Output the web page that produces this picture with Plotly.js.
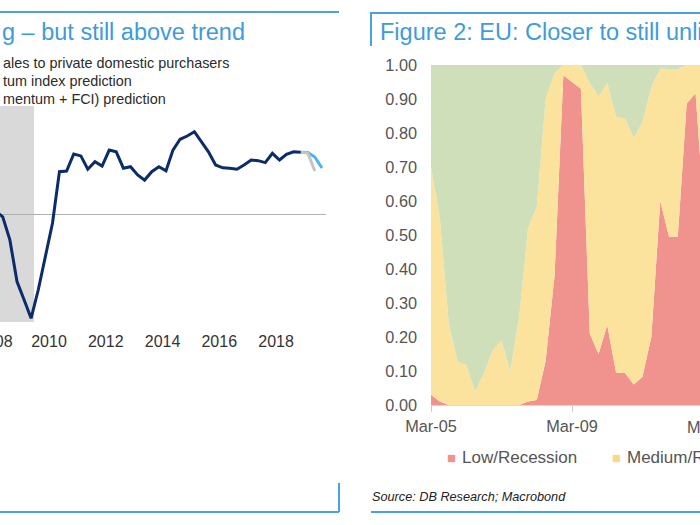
<!DOCTYPE html>
<html><head><meta charset="utf-8">
<script src="https://cdn.plot.ly/plotly-3.0.1.min.js"></script>
<style>html,body{margin:0;padding:0;background:#fff;overflow:hidden}#chart{width:700px;height:525px}</style>
</head><body><div id="chart"></div>
<script>
// ---------- Figure 1 (US) ----------
const usDates = [
  '2008-02-15','2008-05-15','2008-08-15','2008-11-15',
  '2009-02-15','2009-05-15','2009-08-15','2009-11-15',
  '2010-02-15','2010-05-15','2010-08-15','2010-11-15',
  '2011-02-15','2011-05-15','2011-08-15','2011-11-15',
  '2012-02-15','2012-05-15','2012-08-15','2012-11-15',
  '2013-02-15','2013-05-15','2013-08-15','2013-11-15',
  '2014-02-15','2014-05-15','2014-08-15','2014-11-15',
  '2015-02-15','2015-05-15','2015-08-15','2015-11-15',
  '2016-02-15','2016-05-15','2016-08-15','2016-11-15',
  '2017-02-15','2017-05-15','2017-08-15','2017-11-15',
  '2018-02-15','2018-05-15','2018-08-15','2018-11-15'
];
const usFinalSales = [
  0.12, -0.13, -1.20, -3.13,
  -3.98, -4.83, -3.52, -2.04,
  -0.42, 1.96, 1.99, 2.78,
  2.69, 2.07, 2.42, 2.22,
  2.96, 2.88, 2.12, 2.19,
  1.81, 1.57, 1.96, 2.19,
  2.00, 2.96, 3.46, 3.61,
  3.81, 3.35, 2.88, 2.27,
  2.14, 2.12, 2.07, 2.27,
  2.50, 2.47, 2.38, 2.81,
  2.50, 2.76, 2.88, 2.86
];
const momentumDates = ['2018-11-15','2019-02-15','2019-05-15','2019-08-15'];
const momentumPred = [2.86, 2.85, 2.64, 2.13];
const momFciDates = ['2018-11-15','2019-02-15','2019-05-15'];
const momFciPred = [2.86, 2.82, 1.99];
const usLegendTexts = ['ales to private domestic purchasers', 'tum index prediction', 'mentum + FCI) prediction'];
const usTitle = 'g – but still above trend';

// ---------- Figure 2 (EU) ----------
const euDates = [
  '2005-03-01','2005-06-01','2005-09-01','2005-12-01',
  '2006-03-01','2006-06-01','2006-09-01','2006-12-01',
  '2007-03-01','2007-06-01','2007-09-01','2007-12-01',
  '2008-03-01','2008-06-01','2008-09-01','2008-12-01',
  '2009-03-01','2009-06-01','2009-09-01','2009-12-01',
  '2010-03-01','2010-06-01','2010-09-01','2010-12-01',
  '2011-03-01','2011-06-01','2011-09-01','2011-12-01',
  '2012-03-01','2012-06-01','2012-09-01','2012-12-01'
];
const lowRecession = [0.03, 0.01, 0, 0, 0, 0, 0, 0, 0, 0, 0, 0.01, 0.015, 0.13, 0.38, 0.97,
  0.95, 0.93, 0.21, 0.15, 0.235, 0.094, 0.094, 0.06, 0.083, 0.2, 0.60, 0.495, 0.495, 0.887, 0.917, 0.55];
const mediumShare = [0.67, 0.54, 0.24, 0.127, 0.118, 0.04, 0.094, 0.16, 0.19, 0.10, 0.26, 0.51, 0.568, 0.77, 0.596, 0.03,
  0.05, 0.07, 0.737, 0.757, 0.712, 0.754, 0.749, 0.725, 0.749, 0.735, 0.39, 0.493, 0.493, 0.113, 0.083, 0.45];
const highShare = [0.30, 0.45, 0.76, 0.873, 0.882, 0.96, 0.906, 0.84, 0.81, 0.90, 0.74, 0.48, 0.417, 0.10, 0.024, 0,
  0, 0, 0.053, 0.093, 0.053, 0.152, 0.157, 0.215, 0.168, 0.065, 0.01, 0.012, 0.012, 0, 0, 0];
const euTitle = 'Figure 2: EU: Closer to still unli';
const euLegend = ['Low/Recession', 'Medium/R'];
const sourceText = 'Source: DB Research; Macrobond';

// ---------- styling ----------
const FONT = 'Liberation Sans, Arial, Helvetica, sans-serif';
const BLUE = '#4aa3df';
const TITLE_BLUE = '#3f9bd9';
const NAVY = '#0c2b6b';
const RED = '#f0938f', YEL = '#fce39d', GRN = '#cedfb9';
const W = 700, H = 525;
const px = v => v / W;
const py = v => 1 - v / H;

const traces = [
  {x: momentumDates, y: momentumPred, type: 'scatter', mode: 'lines', xaxis: 'x', yaxis: 'y',
   line: {color: '#4db3f0', width: 3}, name: 'Momentum index prediction', showlegend: false},
  {x: momFciDates, y: momFciPred, type: 'scatter', mode: 'lines', xaxis: 'x', yaxis: 'y',
   line: {color: '#c4c4c4', width: 3}, name: '(Momentum + FCI) prediction', showlegend: false},
  {x: usDates, y: usFinalSales, type: 'scatter', mode: 'lines', xaxis: 'x', yaxis: 'y',
   line: {color: NAVY, width: 3}, name: 'Real final sales to private domestic purchasers', showlegend: false},
  {x: euDates, y: lowRecession, type: 'scatter', mode: 'none', stackgroup: 'eu', xaxis: 'x2', yaxis: 'y2',
   fillcolor: RED, name: 'Low/Recession', showlegend: false},
  {x: euDates, y: mediumShare, type: 'scatter', mode: 'none', stackgroup: 'eu', xaxis: 'x2', yaxis: 'y2',
   fillcolor: YEL, name: 'Medium', showlegend: false},
  {x: euDates, y: highShare, type: 'scatter', mode: 'none', stackgroup: 'eu', xaxis: 'x2', yaxis: 'y2',
   fillcolor: GRN, name: 'High', showlegend: false}
];

const usRange = ['2008-04-10', '2019-10-06'];
const euRange = ['2005-03-01', '2012-10-17'];

const ann = [];
function addText(text, x, y, opts) {
  ann.push(Object.assign({text: text, x: x, y: y, xref: 'paper', yref: 'paper', showarrow: false,
    xanchor: 'left', yanchor: 'middle', font: {family: FONT, size: 14, color: '#333'}}, opts || {}));
}
addText(usTitle, px(0), py(32), {font: {family: FONT, size: 23.5, color: TITLE_BLUE}});
usLegendTexts.forEach((t, i) => addText(t, px(1), py(63 + 18 * i), {font: {family: FONT, size: 14.4, color: '#2b2b2b'}}));
addText('2008', px(-5), py(341), {xanchor: 'center', font: {family: FONT, size: 16, color: '#333'}});
addText(euTitle, px(378), py(32), {font: {family: FONT, size: 23.5, color: TITLE_BLUE}});
addText('Mar-13', px(712.7), py(427), {xanchor: 'center', font: {family: FONT, size: 16.3, color: '#555'}});
addText('■', px(451.7), py(457), {xanchor: 'center', font: {family: FONT, size: 15, color: RED}});
addText(euLegend[0], px(460), py(457), {font: {family: FONT, size: 17, color: '#555'}});
addText('■', px(616.7), py(457), {xanchor: 'center', font: {family: FONT, size: 15, color: '#f7d98a'}});
addText(euLegend[1], px(624.5), py(457), {font: {family: FONT, size: 17, color: '#555'}});
addText('<i>' + sourceText + '</i>', px(370), py(496.5), {font: {family: FONT, size: 12.7, color: '#222'}});

function line(x0, y0, x1, y1) {
  return {type: 'line', xref: 'paper', yref: 'paper', x0: px(x0), y0: py(y0), x1: px(x1), y1: py(y1),
    line: {color: BLUE, width: 2}};
}
const shapes = [
  {type: 'rect', xref: 'x', yref: 'y domain', x0: '2007-12-01', x1: '2009-06-22', y0: 0, y1: 1,
   fillcolor: '#d9d9d9', line: {width: 0}, layer: 'below'},
  line(0, 12, 339, 12), line(0, 512, 339, 512), line(339, 483, 339, 512),
  line(371, 13, 705, 13), line(371, 12, 371, 46), line(371, 512, 705, 512)
];

const layout = {
  width: W, height: H, margin: {l: 0, r: 0, t: 0, b: 0},
  paper_bgcolor: '#fff', plot_bgcolor: 'rgba(0,0,0,0)', showlegend: false,
  font: {family: FONT, color: '#333'},
  xaxis: {domain: [0, px(326)], type: 'date', range: usRange, tick0: '2010-01-01', dtick: 'M24',
    tickformat: '%Y', showgrid: false, zeroline: false, showline: false, ticks: '',
    ticklabelstandoff: 8, tickfont: {family: FONT, size: 16, color: '#333'}, anchor: 'y'},
  xaxis3: {domain: [0, px(326)], type: 'date', range: usRange, tick0: '2010-01-01', dtick: 'M24',
    overlaying: 'x', anchor: 'free', position: (0.386667 + 0.798095) / 2, showticklabels: false,
    ticks: 'outside', ticklen: 4, tickwidth: 1, tickcolor: '#b0b0b0', showgrid: false, showline: false, zeroline: false},
  yaxis: {domain: [0.386667, 0.798095], range: [-5, 5], showticklabels: false, showgrid: false,
    zeroline: true, zerolinecolor: '#b0b0b0', zerolinewidth: 1, anchor: 'x'},
  xaxis2: {domain: [px(431), 1], type: 'date', range: euRange, tick0: '2005-03-01', dtick: 'M48',
    tickformat: '%b-%y', showgrid: false, zeroline: false, showline: true, linecolor: '#d9d9d9', linewidth: 1,
    ticks: 'outside', ticklen: 6, tickcolor: '#cccccc', ticklabelstandoff: 0,
    tickfont: {family: FONT, size: 16.3, color: '#555'}, anchor: 'y2'},
  yaxis2: {domain: [0.228571, 0.876190], range: [0, 1], dtick: 0.1, tickformat: '.2f', showgrid: false,
    zeroline: false, showline: false, ticks: '', ticklabelstandoff: 13,
    tickfont: {family: FONT, size: 16.3, color: '#555'}, anchor: 'x2'},
  annotations: ann, shapes: shapes
};

Plotly.newPlot('chart', traces, layout, {staticPlot: true, displayModeBar: false});
</script></body></html>
